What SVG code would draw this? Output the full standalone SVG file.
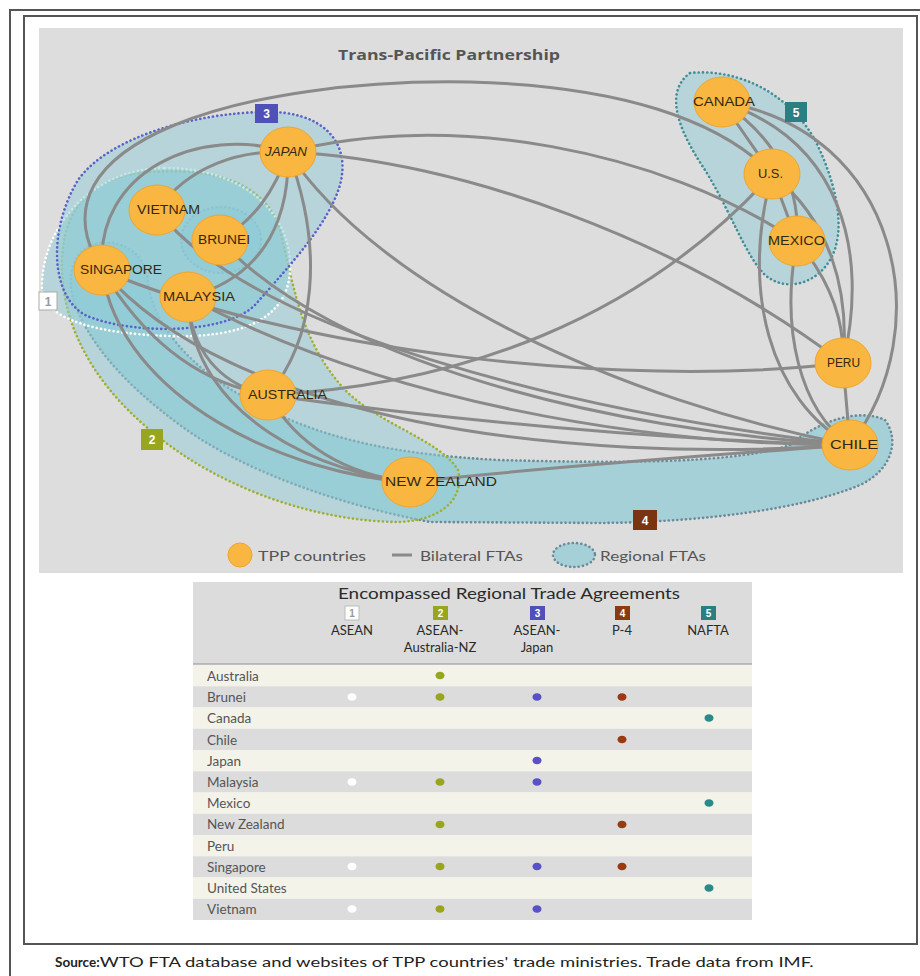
<svg xmlns="http://www.w3.org/2000/svg" width="920" height="976" viewBox="0 0 920 976">
<style>
.frame{fill:none;stroke:#555;stroke-width:2}
.reg{fill:#8fcbd6;fill-opacity:0.5;stroke-width:2.6;stroke-linecap:round;stroke-dasharray:0.1 4.2}
.r1{stroke:#ffffff}
.r2{stroke:#9fb030}
.r3{stroke:#5a60c8}
.r4{stroke:#6a8a98;fill-opacity:0.72}
.r5{stroke:#3f8e96}
.edge{fill:none;stroke:#8a8a8a;stroke-width:3;stroke-linecap:round}
.node{fill:#f9b640;stroke:#eea52e;stroke-width:1}
.nl{font-family:"Liberation Sans",Arial,sans-serif;font-size:12px;fill:#33280f}
.lg{font-family:Lato,"Open Sans",sans-serif;font-size:14px;fill:#555}
.tb{font-family:Lato,"Open Sans",sans-serif;fill:#2a2a2a}
.rl{font-family:Lato,"Open Sans",sans-serif;font-size:13.5px;fill:#555}
.num{font-family:"Liberation Sans",Arial,sans-serif;font-weight:bold;font-size:12px;fill:#fff;text-anchor:middle}
.odd{fill:#f3f3ea}
.even{fill:#dcdcdc}
</style>

<!-- frames -->
<path class="frame" d="M10,976 L10,10 L921,10"/>
<rect class="frame" x="24" y="16" width="893" height="928"/>

<!-- panel -->
<rect x="39" y="28" width="864" height="545" fill="#dddddd"/>
<text x="338" y="60" textLength="222" lengthAdjust="spacingAndGlyphs" font-family="'Open Sans',Lato,sans-serif" font-weight="bold" font-size="14" fill="#555">Trans-Pacific Partnership</text>

<!-- regional FTAs -->
<g id="regions">
<path id="reg4" class="reg r4" d="M100,243 C125,240 145,255 148,280 C150,320 190,370 250,400 C320,440 400,455 500,460 C640,464 740,462 790,445 C820,420 860,408 885,420 C900,440 892,470 860,485 C800,510 700,522 600,523 L430,522 C340,505 240,470 180,425 C125,385 85,340 72,295 C66,265 80,245 100,243 Z"/>
<ellipse id="reg4b" class="reg r4" cx="221" cy="240" rx="40" ry="33"/>
<path id="reg2" class="reg r2" d="M150,172 C210,168 265,180 280,230 C295,290 300,340 345,390 C380,425 440,440 458,470 C465,500 440,520 400,522 C320,522 220,490 150,430 C90,380 60,320 62,260 C64,200 100,175 150,172 Z"/>
<path id="reg1" class="reg r1" d="M165,168 C240,168 292,210 290,270 C288,320 240,338 170,336 C100,334 45,320 42,290 C40,230 90,168 165,168 Z"/>
<path id="reg3" class="reg r3" d="M263,112 C320,110 352,140 340,185 C328,225 290,265 255,305 C225,335 130,335 85,315 C50,295 48,230 78,180 C110,135 200,113 263,112 Z"/>
<path id="reg5" class="reg r5" d="M690,73 C740,68 790,95 815,140 C835,180 848,230 830,260 C815,285 785,292 765,275 C745,255 730,210 705,170 C685,140 660,95 690,73 Z"/>
</g>

<!-- connectors -->
<g id="connectors">
<path class="edge" d="M102,270 C20,140 250,78 470,82 C620,86 720,120 772,174"/>
<path class="edge" d="M102,270 C95,170 200,125 288,152"/>
<path class="edge" d="M157,210 C190,165 240,150 288,152"/>
<path class="edge" d="M288,152 C275,190 255,220 220,240"/>
<path class="edge" d="M288,152 C290,230 255,280 188,297"/>
<path class="edge" d="M288,152 C325,250 315,340 268,395"/>
<path class="edge" d="M288,152 C450,110 660,150 797,241"/>
<path class="edge" d="M288,152 C460,160 680,240 843,363"/>
<path class="edge" d="M288,152 C380,290 620,400 850,445"/>
<path class="edge" d="M157,210 C250,330 560,410 850,445"/>
<path class="edge" d="M220,240 C330,360 600,430 850,445"/>
<path class="edge" d="M188,297 C380,400 640,445 850,445"/>
<path class="edge" d="M102,270 C230,420 560,465 850,445"/>
<path class="edge" d="M102,270 C290,350 620,390 843,363"/>
<path class="edge" d="M102,270 C150,350 210,385 268,395"/>
<path class="edge" d="M102,270 C120,400 290,475 410,482"/>
<path class="edge" d="M188,297 C190,420 330,475 410,482"/>
<path class="edge" d="M188,297 C190,350 220,385 268,395"/>
<path class="edge" d="M268,395 C300,450 350,475 410,482"/>
<path class="edge" d="M268,395 C450,420 660,440 850,445"/>
<path class="edge" d="M268,395 C460,385 640,320 772,174"/>
<path class="edge" d="M410,482 C600,462 760,452 850,445"/>
<path class="edge" d="M722,102 L772,174"/>
<path class="edge" d="M772,174 L797,241"/>
<path class="edge" d="M722,102 C780,140 800,190 797,241"/>
<path class="edge" d="M722,102 C840,140 870,250 843,363"/>
<path class="edge" d="M722,102 C900,130 940,330 850,445"/>
<path class="edge" d="M772,174 C830,220 850,290 843,363"/>
<path class="edge" d="M772,174 C740,290 770,400 850,445"/>
<path class="edge" d="M797,241 C830,280 845,320 843,363"/>
<path class="edge" d="M797,241 C780,330 800,410 850,445"/>
<path class="edge" d="M843,363 L850,445"/>
</g>

<!-- nodes -->
<g id="japan"><ellipse class="node" cx="288" cy="152" rx="28" ry="25"/><text class="nl" x="265" y="156" textLength="42" lengthAdjust="spacingAndGlyphs" font-style="italic">JAPAN</text></g>
<g id="vietnam"><ellipse class="node" cx="157" cy="210" rx="28" ry="25"/><text class="nl" x="137" y="214" textLength="63" lengthAdjust="spacingAndGlyphs">VIETNAM</text></g>
<g id="brunei"><ellipse class="node" cx="220" cy="240" rx="28" ry="25"/><text class="nl" x="198" y="244" textLength="52" lengthAdjust="spacingAndGlyphs">BRUNEI</text></g>
<g id="singapore"><ellipse class="node" cx="102" cy="270" rx="28" ry="25"/><text class="nl" x="80" y="274" textLength="82" lengthAdjust="spacingAndGlyphs">SINGAPORE</text></g>
<g id="malaysia"><ellipse class="node" cx="188" cy="297" rx="28" ry="25"/><text class="nl" x="163" y="301" textLength="72" lengthAdjust="spacingAndGlyphs">MALAYSIA</text></g>
<g id="australia"><ellipse class="node" cx="268" cy="395" rx="28" ry="25"/><text class="nl" x="248" y="399" textLength="79" lengthAdjust="spacingAndGlyphs">AUSTRALIA</text></g>
<g id="newzealand"><ellipse class="node" cx="410" cy="482" rx="28" ry="25"/><text class="nl" x="385" y="486" textLength="112" lengthAdjust="spacingAndGlyphs">NEW ZEALAND</text></g>
<g id="canada"><ellipse class="node" cx="722" cy="102" rx="28" ry="25"/><text class="nl" x="693" y="106" textLength="62" lengthAdjust="spacingAndGlyphs">CANADA</text></g>
<g id="us"><ellipse class="node" cx="772" cy="174" rx="28" ry="25"/><text class="nl" x="758" y="178" textLength="25" lengthAdjust="spacingAndGlyphs">U.S.</text></g>
<g id="mexico"><ellipse class="node" cx="797" cy="241" rx="28" ry="25"/><text class="nl" x="768" y="245" textLength="57" lengthAdjust="spacingAndGlyphs">MEXICO</text></g>
<g id="peru"><ellipse class="node" cx="843" cy="363" rx="28" ry="25"/><text class="nl" x="827" y="367" textLength="33" lengthAdjust="spacingAndGlyphs">PERU</text></g>
<g id="chile"><ellipse class="node" cx="850" cy="445" rx="28" ry="25"/><text class="nl" x="830" y="449" textLength="48" lengthAdjust="spacingAndGlyphs">CHILE</text></g>

<!-- region number labels -->
<g id="labels">
<rect x="39" y="292" width="18" height="18" fill="#fff" stroke="#aaa" stroke-width="1"/><text class="num" x="48" y="306" style="fill:#999">1</text>
<rect x="141" y="429" width="22" height="21" fill="#98a51e"/><text class="num" x="152" y="444">2</text>
<rect x="255" y="104" width="23" height="19" fill="#4f50b8"/><text class="num" x="266.5" y="118">3</text>
<rect x="633" y="510" width="24" height="20" fill="#7a3510"/><text class="num" x="645" y="525">4</text>
<rect x="785" y="102" width="22" height="20" fill="#2b7f82"/><text class="num" x="796" y="117">5</text>
</g>

<!-- legend -->
<g id="legend">
<circle class="node" cx="240" cy="555" r="12"/>
<text class="lg" x="258" y="561" textLength="108" lengthAdjust="spacingAndGlyphs">TPP countries</text>
<line x1="392" y1="555" x2="412" y2="555" stroke="#8a8a8a" stroke-width="3"/>
<text class="lg" x="420" y="561" textLength="103" lengthAdjust="spacingAndGlyphs">Bilateral FTAs</text>
<ellipse class="reg r4" cx="574" cy="555" rx="21" ry="12"/>
<text class="lg" x="600" y="561" textLength="106" lengthAdjust="spacingAndGlyphs">Regional FTAs</text>
</g>

<!-- table -->
<g id="table">
<rect x="193" y="582" width="559" height="82" fill="#dcdcdc"/>
<line x1="193" y1="664" x2="752" y2="664" stroke="#aaa" stroke-width="1.5"/>
<text class="tb" x="338" y="599" font-size="14.5" textLength="342" lengthAdjust="spacingAndGlyphs">Encompassed Regional Trade Agreements</text>
<rect x="345" y="606" width="14" height="14" fill="#fff" stroke="#bbb" stroke-width="1"/><text class="num" x="352" y="617" style="fill:#999;font-size:10px">1</text>
<rect x="433" y="606" width="15" height="14" fill="#98a51e"/><text class="num" x="440.5" y="617" style="font-size:10px">2</text>
<rect x="530" y="606" width="15" height="14" fill="#4f50b8"/><text class="num" x="537.5" y="617" style="font-size:10px">3</text>
<rect x="615" y="606" width="15" height="14" fill="#8a3a12"/><text class="num" x="622.5" y="617" style="font-size:10px">4</text>
<rect x="701" y="606" width="15" height="14" fill="#2b7f82"/><text class="num" x="708.5" y="617" style="font-size:10px">5</text>
<g font-size="13" text-anchor="middle">
<text class="tb" x="352" y="635">ASEAN</text>
<text class="tb" x="440" y="635">ASEAN-</text>
<text class="tb" x="440" y="652">Australia-NZ</text>
<text class="tb" x="537" y="635">ASEAN-</text>
<text class="tb" x="537" y="652">Japan</text>
<text class="tb" x="622" y="635">P-4</text>
<text class="tb" x="708" y="635">NAFTA</text>
</g>
<rect class="odd" x="193" y="665" width="559" height="21.25"/>
<rect class="even" x="193" y="686.25" width="559" height="21.25"/>
<rect class="odd" x="193" y="707.5" width="559" height="21.25"/>
<rect class="even" x="193" y="728.75" width="559" height="21.25"/>
<rect class="odd" x="193" y="750" width="559" height="21.25"/>
<rect class="even" x="193" y="771.25" width="559" height="21.25"/>
<rect class="odd" x="193" y="792.5" width="559" height="21.25"/>
<rect class="even" x="193" y="813.75" width="559" height="21.25"/>
<rect class="odd" x="193" y="835" width="559" height="21.25"/>
<rect class="even" x="193" y="856.25" width="559" height="21.25"/>
<rect class="odd" x="193" y="877.5" width="559" height="21.25"/>
<rect class="even" x="193" y="898.75" width="559" height="21.25"/>
<text class="rl" x="207" y="681">Australia</text>
<text class="rl" x="207" y="702">Brunei</text>
<text class="rl" x="207" y="723">Canada</text>
<text class="rl" x="207" y="744.5">Chile</text>
<text class="rl" x="207" y="765.5">Japan</text>
<text class="rl" x="207" y="787">Malaysia</text>
<text class="rl" x="207" y="808">Mexico</text>
<text class="rl" x="207" y="829">New Zealand</text>
<text class="rl" x="207" y="850.5">Peru</text>
<text class="rl" x="207" y="871.5">Singapore</text>
<text class="rl" x="207" y="893">United States</text>
<text class="rl" x="207" y="914">Vietnam</text>
<g id="dots">
<ellipse cx="440" cy="675.5" rx="4.5" ry="3.8" fill="#98a51e"/>
<ellipse cx="352" cy="697" rx="4.5" ry="3.8" fill="#fff"/>
<ellipse cx="440" cy="697" rx="4.5" ry="3.8" fill="#98a51e"/>
<ellipse cx="537" cy="697" rx="4.5" ry="3.8" fill="#5a50c8"/>
<ellipse cx="622" cy="697" rx="4.5" ry="3.8" fill="#9a3a10"/>
<ellipse cx="709" cy="718" rx="4.5" ry="3.8" fill="#2a8a8a"/>
<ellipse cx="622" cy="739.5" rx="4.5" ry="3.8" fill="#9a3a10"/>
<ellipse cx="537" cy="760.5" rx="4.5" ry="3.8" fill="#5a50c8"/>
<ellipse cx="352" cy="782" rx="4.5" ry="3.8" fill="#fff"/>
<ellipse cx="440" cy="782" rx="4.5" ry="3.8" fill="#98a51e"/>
<ellipse cx="537" cy="782" rx="4.5" ry="3.8" fill="#5a50c8"/>
<ellipse cx="709" cy="803" rx="4.5" ry="3.8" fill="#2a8a8a"/>
<ellipse cx="440" cy="824.5" rx="4.5" ry="3.8" fill="#98a51e"/>
<ellipse cx="622" cy="824.5" rx="4.5" ry="3.8" fill="#9a3a10"/>
<ellipse cx="352" cy="866.5" rx="4.5" ry="3.8" fill="#fff"/>
<ellipse cx="440" cy="866.5" rx="4.5" ry="3.8" fill="#98a51e"/>
<ellipse cx="537" cy="866.5" rx="4.5" ry="3.8" fill="#5a50c8"/>
<ellipse cx="622" cy="866.5" rx="4.5" ry="3.8" fill="#9a3a10"/>
<ellipse cx="709" cy="888" rx="4.5" ry="3.8" fill="#2a8a8a"/>
<ellipse cx="352" cy="909" rx="4.5" ry="3.8" fill="#fff"/>
<ellipse cx="440" cy="909" rx="4.5" ry="3.8" fill="#98a51e"/>
<ellipse cx="537" cy="909" rx="4.5" ry="3.8" fill="#5a50c8"/>
</g>
</g>

<!-- source -->
<text x="55" y="967" font-family="Lato,'Open Sans',sans-serif" font-size="13.5" fill="#222"><tspan font-weight="bold">Source:</tspan><tspan textLength="714" lengthAdjust="spacingAndGlyphs">WTO FTA database and websites of TPP countries' trade ministries. Trade data from IMF.</tspan></text>
</svg>
